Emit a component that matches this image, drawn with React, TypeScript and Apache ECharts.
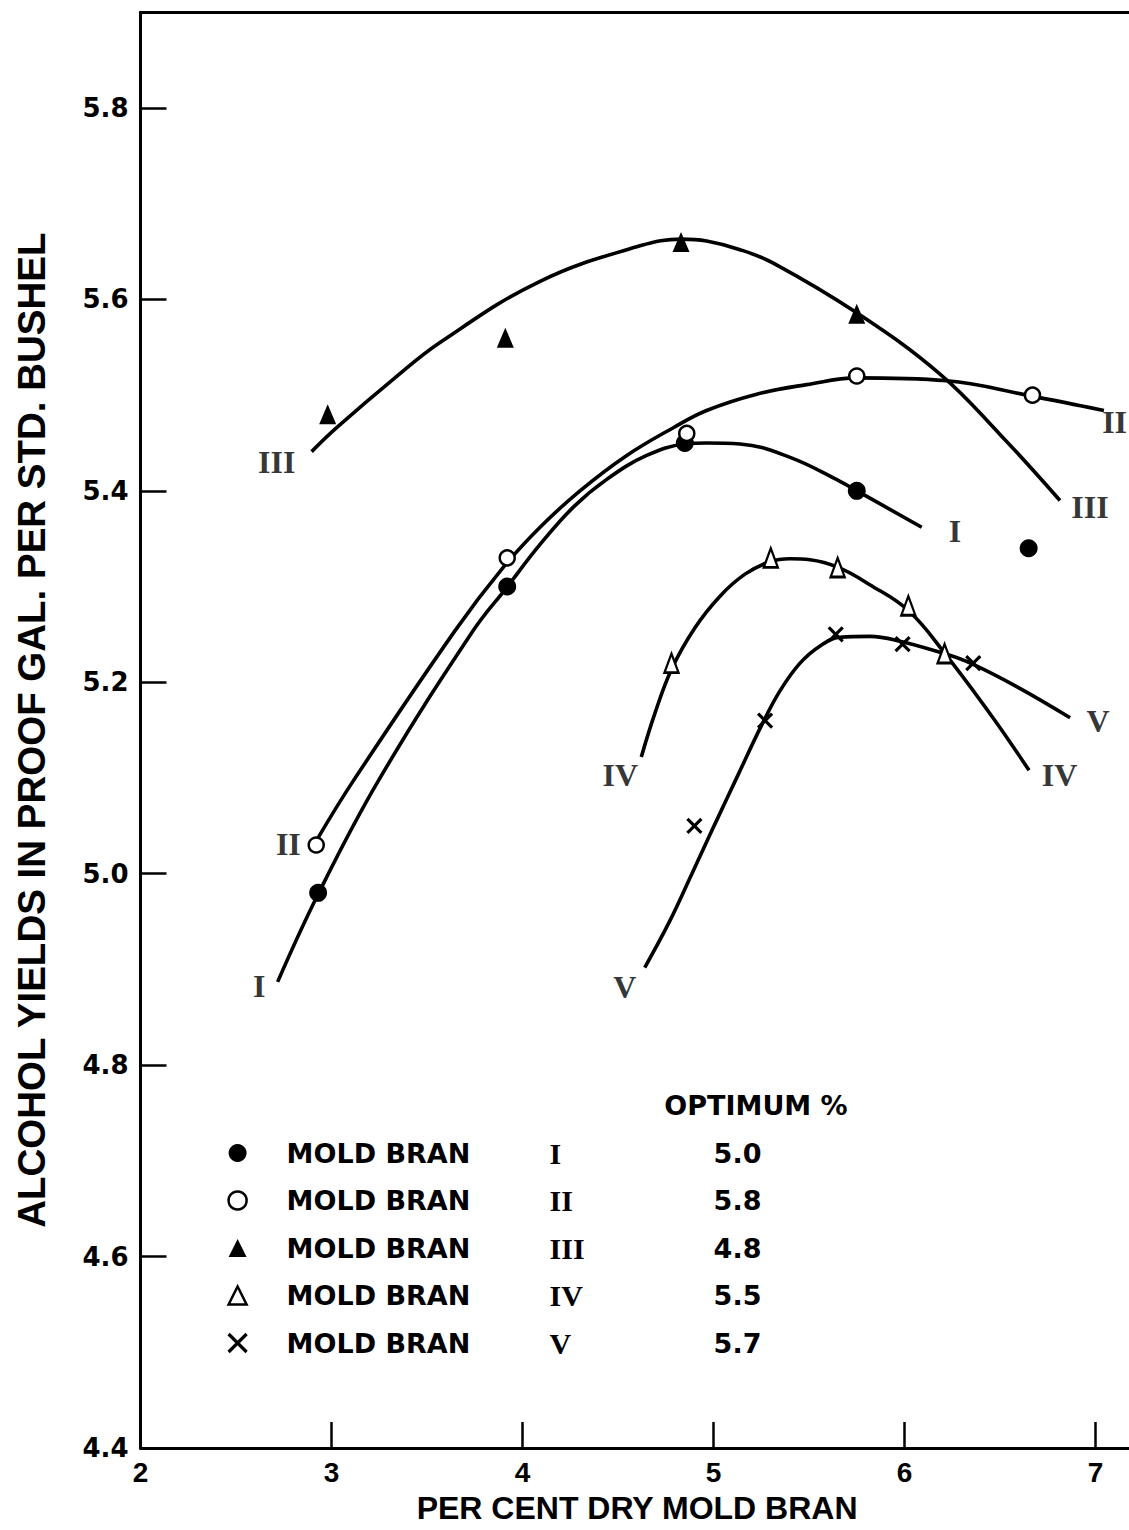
import React, { useEffect, useRef } from "react";
import * as echarts from "echarts";

// ---------- data ----------
const xTicks = [2, 3, 4, 5, 6, 7];
const yTicks = [4.4, 4.6, 4.8, 5.0, 5.2, 5.4, 5.6, 5.8];

const seriesNames = ["MOLD BRAN I", "MOLD BRAN II", "MOLD BRAN III", "MOLD BRAN IV", "MOLD BRAN V"];
const romans = ["I", "II", "III", "IV", "V"];
const optimum = ["5.0", "5.8", "4.8", "5.5", "5.7"];

// measured points
const branI = [[2.93, 4.98], [3.92, 5.30], [4.85, 5.45], [5.75, 5.40], [6.65, 5.34]];
const branII = [[2.92, 5.03], [3.92, 5.33], [4.86, 5.46], [5.75, 5.52], [6.67, 5.50]];
const branIII = [[2.98, 5.48], [3.91, 5.56], [4.83, 5.66], [5.75, 5.585]];
const branIV = [[4.78, 5.22], [5.30, 5.33], [5.65, 5.32], [6.02, 5.28], [6.21, 5.23]];
const branV = [[4.90, 5.05], [5.27, 5.16], [5.64, 5.25], [5.99, 5.24], [6.36, 5.22]];

// hand-drawn fitted curves
const curveI = [[2.718, 4.887], [2.926, 4.977], [3.245, 5.097], [3.742, 5.254], [3.917, 5.299], [4.092, 5.344], [4.266, 5.383], [4.441, 5.412], [4.65, 5.437], [4.851, 5.449], [4.964, 5.45], [5.139, 5.449], [5.401, 5.435], [5.662, 5.41], [5.751, 5.40], [6.09, 5.362]];
const curveII = [[2.931, 5.038], [3.114, 5.097], [3.647, 5.254], [3.899, 5.32], [4.092, 5.362], [4.301, 5.40], [4.546, 5.437], [4.79, 5.466], [4.964, 5.484], [5.226, 5.501], [5.488, 5.511], [5.75, 5.518], [6.221, 5.515], [6.666, 5.499], [7.044, 5.484]];
const curveIII = [[2.896, 5.441], [3.027, 5.466], [3.332, 5.518], [3.568, 5.555], [4.092, 5.619], [4.615, 5.656], [4.834, 5.663], [4.964, 5.661], [5.139, 5.652], [5.313, 5.638], [5.75, 5.586], [6.186, 5.522], [6.5, 5.459], [6.814, 5.39]];
const curveIV = [[4.622, 5.122], [4.694, 5.168], [4.781, 5.214], [4.903, 5.257], [5.034, 5.29], [5.165, 5.313], [5.296, 5.326], [5.401, 5.329], [5.505, 5.328], [5.653, 5.32], [5.818, 5.302], [6.02, 5.275], [6.212, 5.23], [6.463, 5.163], [6.652, 5.108]];
const curveV = [[4.64, 4.902], [4.772, 4.951], [4.887, 5.0], [5.003, 5.05], [5.128, 5.103], [5.254, 5.156], [5.348, 5.191], [5.453, 5.22], [5.558, 5.238], [5.662, 5.247], [5.819, 5.248], [5.976, 5.243], [6.225, 5.229], [6.357, 5.219], [6.592, 5.195], [6.867, 5.163]];

// roman-numeral tags at the curve ends
const curveLabelText = ["III", "II", "I", "I", "III", "II", "IV", "IV", "V", "V"];
const curveLabelX = [2.713, 2.774, 2.622, 6.264, 6.971, 7.1, 4.512, 6.812, 7.013, 4.536];
const curveLabelY = [5.430, 5.031, 4.883, 5.358, 5.383, 5.472, 5.103, 5.103, 5.160, 4.882];

const X_PATH = "path://M0,0L10,10M10,0L0,10";

export default function App() {
  const ref = useRef<HTMLDivElement>(null);

  useEffect(() => {
    if (!ref.current) return;
    const chart = echarts.init(ref.current, null, { renderer: "svg" });

    const markerStyles: any[] = [
      { symbol: "circle", symbolSize: 18, itemStyle: { color: "#000", borderWidth: 0, opacity: 1 } },
      { symbol: "circle", symbolSize: 15, itemStyle: { color: "#fff", borderColor: "#000", borderWidth: 2.5, opacity: 1 } },
      { symbol: "triangle", symbolSize: [17, 20], itemStyle: { color: "#000", borderWidth: 0, opacity: 1 } },
      { symbol: "triangle", symbolSize: [14, 19], itemStyle: { color: "#fff", borderColor: "#000", borderWidth: 2.5, opacity: 1 } },
      { symbol: X_PATH, symbolSize: 14, itemStyle: { color: "rgba(0,0,0,0)", borderColor: "#000", borderWidth: 3.2, opacity: 1 } },
    ];
    const markerData = [branI, branII, branIII, branIV, branV];
    const curves = [curveI, curveII, curveIII, curveIV, curveV];

    const lineSeries = curves.map((c, i) => ({
      name: "curve " + romans[i],
      type: "line",
      data: c,
      smooth: 0.4,
      symbol: "none",
      silent: true,
      z: 2,
      lineStyle: { color: "#000", width: 3.6, opacity: 1 },
    }));

    const scatterSeries = markerData.map((d, i) => ({
      name: seriesNames[i],
      type: "scatter",
      data: d,
      symbol: markerStyles[i].symbol,
      symbolSize: markerStyles[i].symbolSize,
      itemStyle: markerStyles[i].itemStyle,
      silent: true,
      z: 3,
    }));

    const labelSeries = {
      name: "curve tags",
      type: "scatter",
      silent: true,
      z: 4,
      symbol: "circle",
      symbolSize: 1,
      itemStyle: { color: "rgba(0,0,0,0)" },
      data: curveLabelText.map((t, i) => ({ name: t, value: [curveLabelX[i], curveLabelY[i]] })),
      label: {
        show: true,
        position: "inside",
        formatter: "{b}",
        color: "#000",
        fontFamily: "'Liberation Serif', 'DejaVu Serif', serif",
        fontWeight: "bold",
        fontSize: 32,
      },
    };

    const legendData = seriesNames.map((n, i) => ({
      name: n,
      icon: markerStyles[i].symbol,
      itemStyle: markerStyles[i].itemStyle,
    }));

    const sansBold = "'DejaVu Sans', 'Liberation Sans', sans-serif";

    const option: any = {
      animation: false,
      backgroundColor: "#fff",
      grid: {
        left: 140.5,
        right: -4.7,
        top: 12.3,
        bottom: 82,
        containLabel: false,
        outerBoundsMode: "none",
      },
      xAxis: [
        {
          type: "value",
          min: 2,
          max: 7.2,
          interval: 1,
          name: "PER CENT DRY MOLD BRAN",
          nameLocation: "middle",
          nameGap: 44,
          nameTextStyle: {
            color: "#000",
            fontFamily: "'Liberation Sans', Arial, sans-serif",
            fontWeight: "bold",
            fontSize: 32,
          },
          axisLine: { show: true, lineStyle: { color: "#000", width: 3 } },
          axisTick: { show: true, inside: true, length: 26, customValues: xTicks, lineStyle: { color: "#000", width: 2.5 } },
          axisLabel: {
            show: true,
            customValues: xTicks,
            margin: 10,
            color: "#000",
            fontFamily: "'Liberation Sans', Arial, sans-serif",
            fontWeight: "bold",
            fontSize: 28,
            formatter: (v: number) => String(v),
          },
          splitLine: { show: false },
        },
        {
          type: "value",
          position: "top",
          min: 2,
          max: 7.2,
          axisLine: { show: true, lineStyle: { color: "#000", width: 3 } },
          axisTick: { show: false },
          axisLabel: { show: false },
          splitLine: { show: false },
        },
      ],
      yAxis: {
        type: "value",
        min: 4.4,
        max: 5.9,
        interval: 0.2,
        name: "ALCOHOL YIELDS IN PROOF GAL. PER STD. BUSHEL",
        nameLocation: "middle",
        nameGap: 90,
        nameTextStyle: {
          color: "#000",
          fontFamily: "'Liberation Sans', Arial, sans-serif",
          fontWeight: "bold",
          fontSize: 38.5,
        },
        axisLine: { show: true, lineStyle: { color: "#000", width: 3 } },
        axisTick: { show: true, inside: true, length: 26, customValues: yTicks, lineStyle: { color: "#000", width: 2.5 } },
        axisLabel: {
          show: true,
          customValues: yTicks,
          margin: 12,
          color: "#000",
          fontFamily: sansBold,
          fontWeight: "bold",
          fontSize: 26,
          formatter: (v: number) => v.toFixed(1),
        },
        splitLine: { show: false },
      },
      legend: {
        show: true,
        orient: "vertical",
        left: 227,
        top: 1138,
        padding: 0,
        itemGap: 17.5,
        itemWidth: 18,
        itemHeight: 18,
        selectedMode: false,
        data: legendData,
        formatter: (name: string) => {
          const i = seriesNames.indexOf(name);
          return "{t|MOLD BRAN}{r|" + romans[i] + "}{v|" + optimum[i] + "}";
        },
        textStyle: {
          color: "#000",
          fontFamily: sansBold,
          fontWeight: "bold",
          fontSize: 27,
          rich: {
            t: { width: 263, padding: [0, 0, 0, 35], lineHeight: 30, color: "#000", fontFamily: sansBold, fontWeight: "bold", fontSize: 27 },
            r: { width: 164, lineHeight: 30, color: "#000", fontFamily: "'Liberation Serif', 'DejaVu Serif', serif", fontWeight: "bold", fontSize: 30 },
            v: { lineHeight: 30, color: "#000", fontFamily: sansBold, fontWeight: "bold", fontSize: 27 },
          },
        },
      },
      graphic: [
        {
          type: "text",
          x: 756,
          y: 1105,
          style: {
            text: "OPTIMUM %",
            fill: "#000",
            fontFamily: sansBold,
            fontWeight: "bold",
            fontSize: 27,
            align: "center",
            verticalAlign: "middle",
          },
        },
      ],
      series: [...lineSeries, ...scatterSeries, labelSeries],
    };

    chart.setOption(option);
    return () => chart.dispose();
  }, []);

  return (
    <div
      ref={ref}
      style={{ position: "absolute", left: 0, top: 0, width: 1129, height: 1530, background: "#fff" }}
    />
  );
}
